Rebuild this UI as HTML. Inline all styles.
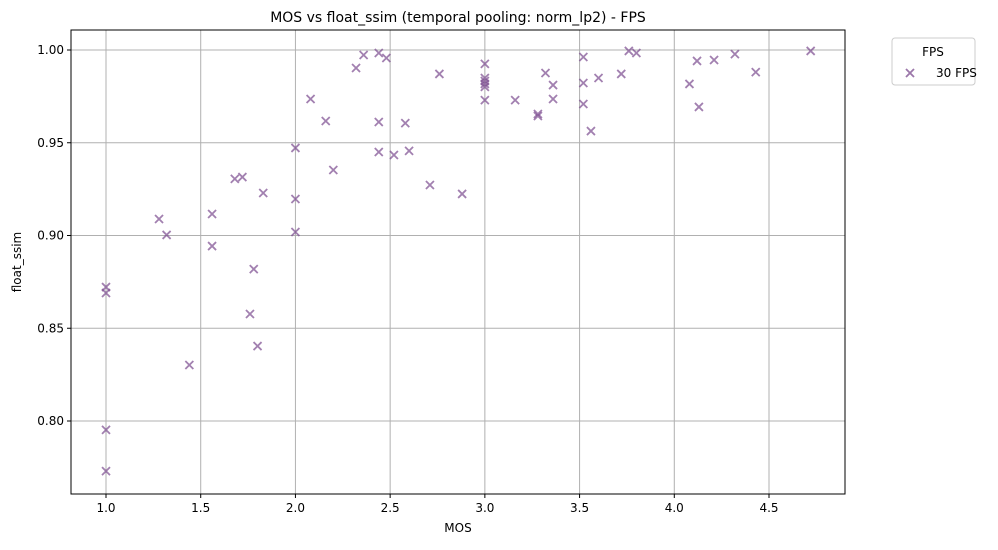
<!DOCTYPE html>
<html><head><meta charset="utf-8"><style>
body{margin:0;background:#fff;font-family:"Liberation Sans","DejaVu Sans",sans-serif}
svg text{font-family:"DejaVu Sans","Liberation Sans",sans-serif;fill:#000}
</style></head><body>
<svg id="c" width="998" height="545" xmlns="http://www.w3.org/2000/svg">
<rect x="0" y="0" width="998" height="545" fill="#fff"/>
<g id="grid"></g>
<g id="pts"></g>
<rect x="71" y="30" width="774" height="464" fill="none" stroke="#000" stroke-width="1"/>
<g id="ticks"></g>
<text x="458" y="22" font-size="14" text-anchor="middle">MOS vs float_ssim (temporal pooling: norm_lp2) - FPS</text>
<text x="458" y="532" font-size="12" text-anchor="middle">MOS</text>
<text x="21" y="262" font-size="12" text-anchor="middle" transform="rotate(-90 21 262)">float_ssim</text>
<g>
<rect x="892" y="38" width="83" height="47" rx="3" fill="#fff" stroke="#ccc"/>
<text x="933" y="56" font-size="12" text-anchor="middle">FPS</text>
<g>
<path d="M906 69 l8 8 M914 69 l-8 8" stroke="#7b4a8e" stroke-opacity="0.75" stroke-width="1.8"/>
<text x="936" y="77" font-size="12">30 FPS</text></g>
</g>
</svg>
<script>
const mos=[1,1,1,1,1.28,1.32,1.44,1.56,1.56,1.68,1.72,1.78,1.76,1.8,1.83,2,2,2,2.08,2.16,2.2,2.32,2.36,2.44,2.48,2.44,2.44,2.52,2.58,2.6,2.71,2.76,2.88,3,3,3,3,3,3,3.16,3.28,3.28,3.32,3.36,3.36,3.52,3.52,3.52,3.56,3.6,3.72,3.76,3.8,4.08,4.12,4.13,4.21,4.32,4.43,4.72];
const ssim=[.8722,.869,.7952,.773,.9089,.9003,.8302,.9116,.8943,.9305,.9315,.8819,.8577,.8404,.9229,.9472,.9197,.9019,.9736,.9617,.9353,.9903,.9973,.9984,.9957,.9612,.945,.9434,.9606,.9456,.9272,.9871,.9224,.9925,.9849,.9833,.9817,.9801,.973,.973,.9655,.9644,.9876,.9811,.9736,.9962,.9822,.9709,.9563,.9849,.9871,.9995,.9984,.9817,.9941,.9693,.9946,.9978,.9881,.9995];
const xTicks=[1.0,1.5,2.0,2.5,3.0,3.5,4.0,4.5];
const yTicks=[0.80,0.85,0.90,0.95,1.00];
const NS="http://www.w3.org/2000/svg";
const X=v=>106+(v-1)*189.43;
const Y=v=>50+(1-v)*1855;
const grid=document.getElementById('grid'),ticks=document.getElementById('ticks'),pts=document.getElementById('pts');
function mk(tag,attrs,parent){const e=document.createElementNS(NS,tag);for(const k in attrs)e.setAttribute(k,attrs[k]);parent.appendChild(e);return e;}
xTicks.forEach(t=>{const x=X(t);
const g=mk('line',{x1:x,x2:x,y1:30,y2:494,stroke:'#b0b0b0','stroke-width':1},grid);


mk('line',{x1:x,x2:x,y1:494,y2:498,stroke:'#000'},ticks);
const l=mk('text',{x:x,y:512,'font-size':12,'text-anchor':'middle'},ticks);l.textContent=t.toFixed(1);

});
yTicks.forEach(t=>{const y=Y(t);
const g=mk('line',{x1:71,x2:845,y1:y,y2:y,stroke:'#b0b0b0','stroke-width':1},grid);


mk('line',{x1:67,x2:71,y1:y,y2:y,stroke:'#000'},ticks);
const l=mk('text',{x:64,y:y+4,'font-size':12,'text-anchor':'end'},ticks);l.textContent=t.toFixed(2);

});
mos.forEach((m,i)=>{const x=X(m),y=Y(ssim[i]);
const p=mk('path',{d:`M${x-4} ${y-4} L${x+4} ${y+4} M${x+4} ${y-4} L${x-4} ${y+4}`,stroke:'#7b4a8e','stroke-opacity':0.7,'stroke-width':1.8},pts);

});
</script>
</body></html>
